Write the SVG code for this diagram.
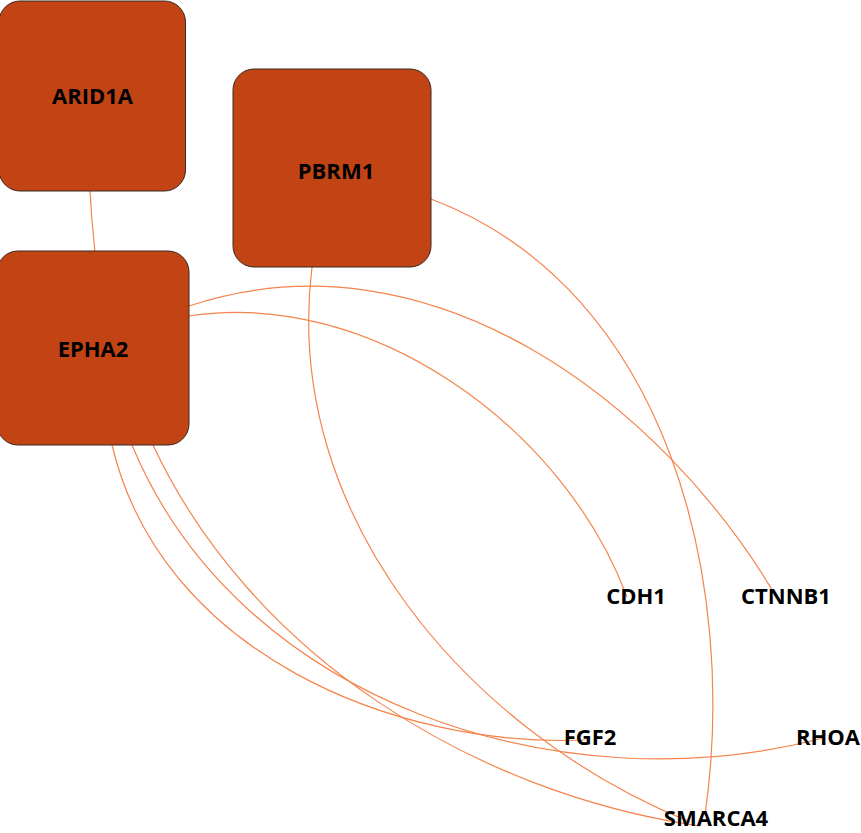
<svg xmlns="http://www.w3.org/2000/svg" width="861" height="833" viewBox="0 0 861 833">
  <style>
    .edge { fill: none; stroke: #f5844c; stroke-width: 1.2; }
    .box { fill: #c24415; stroke: #3a2a22; stroke-width: 1; }
    .lbl { font-family: "Open Sans", "Liberation Sans", sans-serif; font-weight: bold; font-size: 22px; fill: #000; text-anchor: middle; }
  </style>
  <rect width="861" height="833" fill="#ffffff"/>

  <g id="connectors">
    <path id="e-arid1a-epha2" class="edge" d="M90,191 Q91.5,221 95,252"/>
    <path id="e-epha2-ctnnb1" class="edge" d="M189,306 C430,226 662,402 777,598"/>
    <path id="e-epha2-cdh1" class="edge" d="M189,316 C368,288 563,425 627,597"/>
    <path id="e-pbrm1-smarca4-a" class="edge" d="M431,199 C671,290 738,586 705,815"/>
    <path id="e-pbrm1-smarca4-b" class="edge" d="M312,267 C281,516 470,733 690,822"/>
    <path id="e-epha2-fgf2" class="edge" d="M112,445 C161,652 393,748 585,740"/>
    <path id="e-epha2-rhoa" class="edge" d="M132,445 C239,704 563,807 823,738"/>
    <path id="e-epha2-smarca4" class="edge" d="M153,445 C251,655 473,793 700,826"/>
  </g>

  <g id="node-ARID1A">
    <rect class="box" x="-1" y="1" width="186.5" height="190" rx="21" ry="21"/>
    <text class="lbl" x="92.5" y="104">ARID1A</text>
  </g>
  <g id="node-EPHA2">
    <rect class="box" x="-3" y="251" width="192" height="194" rx="21" ry="21"/>
    <text class="lbl" x="93" y="357">EPHA2</text>
  </g>
  <g id="node-PBRM1">
    <rect class="box" x="233" y="69" width="198" height="198" rx="21" ry="21"/>
    <text class="lbl" x="336" y="179">PBRM1</text>
  </g>
  <g id="node-CDH1">
    <text class="lbl" x="636" y="604">CDH1</text>
  </g>
  <g id="node-CTNNB1">
    <text class="lbl" x="786" y="604">CTNNB1</text>
  </g>
  <g id="node-FGF2">
    <text class="lbl" x="590" y="745">FGF2</text>
  </g>
  <g id="node-RHOA">
    <text class="lbl" x="828" y="745">RHOA</text>
  </g>
  <g id="node-SMARCA4">
    <text class="lbl" x="716" y="826">SMARCA4</text>
  </g>
</svg>
